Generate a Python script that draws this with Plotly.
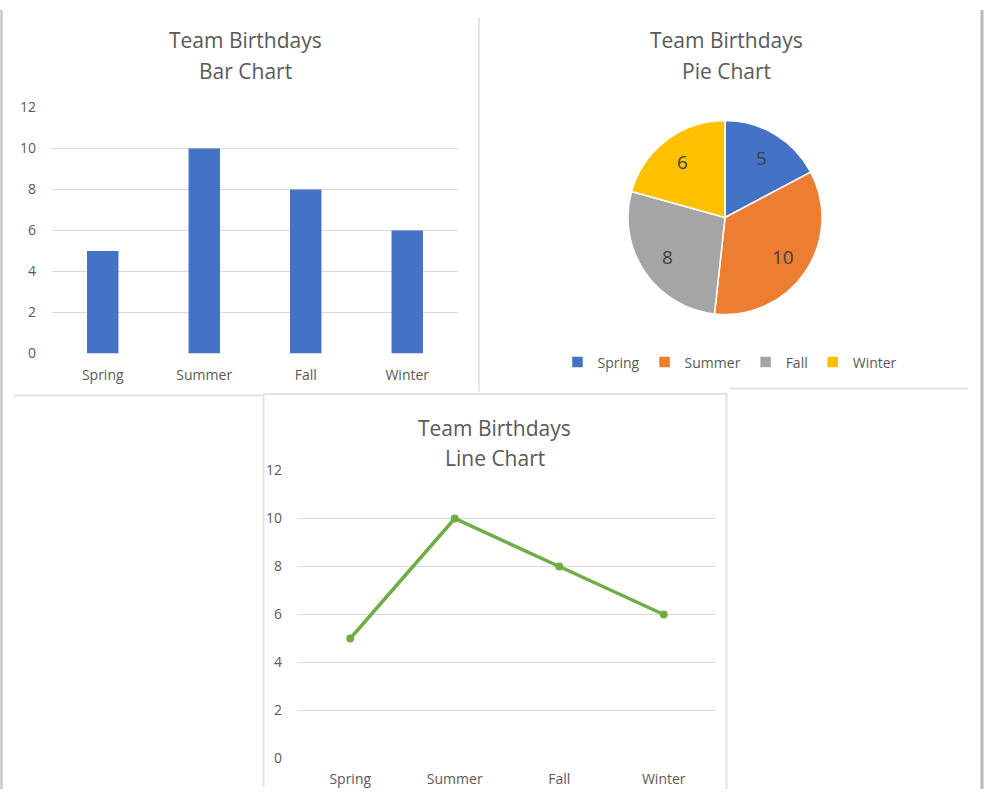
import math
import plotly.graph_objects as go

W, H = 985, 798

seasons = ["Spring", "Summer", "Fall", "Winter"]
birthdays = [5, 10, 8, 6]
y_ticks = [0, 2, 4, 6, 8, 10, 12]

season_colors = ["#4472C4", "#ED7D31", "#A5A5A5", "#FFC000"]
bar_color = "#4472C4"
line_color = "#70AD47"
grid_color = "#D9D9D9"
text_color = "#595959"
FONT = "Open Sans"

# observed vertical placement of the figure in the photographed page
TOP_OFF, EFF_H = 8.5, 779.0


def px_x(p):
    return p / W


def px_y(p):
    return 1 - (p - TOP_OFF) / EFF_H


def clamp(v):
    return max(0.0, min(1.0, v))


fig = go.Figure()

# Bar chart
fig.add_trace(go.Bar(
    x=seasons, y=birthdays, marker=dict(color=bar_color, line=dict(width=0)),
    width=0.31, xaxis="x", yaxis="y", showlegend=False, hoverinfo="x+y"))

# Pie chart
cx, cy, r = 725, 216, 97
pie_dom_y = [px_y(cy + r), px_y(cy - r)]
fig.add_trace(go.Pie(
    labels=seasons, values=birthdays, sort=False, direction="clockwise", rotation=0,
    marker=dict(colors=season_colors, line=dict(color="white", width=1.5)),
    textinfo="none",
    domain=dict(x=[px_x(cx - r), px_x(cx + r)], y=pie_dom_y),
    showlegend=True))

# Line chart
fig.add_trace(go.Scatter(
    x=seasons, y=birthdays, mode="lines+markers",
    line=dict(color=line_color, width=3.5), marker=dict(color=line_color, size=8),
    xaxis="x2", yaxis="y2", showlegend=False))

axis_common = dict(
    showline=False, zeroline=False, ticks="",
    tickfont=dict(family=FONT, size=14, color=text_color),
    fixedrange=True,
)

fig.update_layout(
    width=W, height=H, autosize=False,
    margin=dict(l=0, r=0, t=0, b=0),
    paper_bgcolor="white", plot_bgcolor="white",
    font=dict(family=FONT, color=text_color),
    xaxis=dict(domain=[px_x(52), px_x(458)], type="category", range=[-0.5, 3.5],
               showgrid=False, ticklabelstandoff=11, anchor="y", **axis_common),
    yaxis=dict(domain=[px_y(352), px_y(106)], range=[0, 12], tickvals=y_ticks,
               showgrid=True, gridcolor=grid_color, gridwidth=1, ticklabelstandoff=15,
               anchor="x", **axis_common),
    xaxis2=dict(domain=[px_x(298), px_x(716)], type="category", range=[-0.5, 3.5],
                showgrid=False, ticklabelstandoff=10, anchor="y2", **axis_common),
    yaxis2=dict(domain=[px_y(757), px_y(469)], range=[0, 12], tickvals=y_ticks,
                showgrid=True, gridcolor=grid_color, gridwidth=1, ticklabelstandoff=15,
                anchor="x2", **axis_common),
    legend=dict(orientation="h", x=px_x(730), xanchor="center", y=px_y(361), yanchor="middle",
                font=dict(family=FONT, size=14, color=text_color), itemwidth=30,
                bgcolor="rgba(0,0,0,0)", traceorder="normal"),
    showlegend=True,
)

# Pie value labels placed along each slice's mid-angle
total = sum(birthdays)
cum = 0
for v in birthdays:
    mid = (cum + v / 2) / total * 2 * math.pi
    cum += v
    rr = 0.72 * r
    fig.add_annotation(x=px_x(cx + rr * math.sin(mid)),
                       y=px_y(cy - rr * math.cos(mid)),
                       xref="paper", yref="paper", text=str(v), showarrow=False,
                       xanchor="center", yanchor="middle",
                       font=dict(family=FONT, size=19, color="#404040"))

# Titles
titles = [
    (245, 39, "Team Birthdays"), (245, 69, "Bar Chart"),
    (726, 39, "Team Birthdays"), (726, 69, "Pie Chart"),
    (495, 426, "Team Birthdays"), (495, 456, "Line Chart"),
]
for x, y, t in titles:
    fig.add_annotation(x=px_x(x), y=px_y(y), xref="paper", yref="paper", text=t,
                       showarrow=False, xanchor="center", yanchor="middle",
                       font=dict(family=FONT, size=21, color=text_color))


# Panel borders (screenshot frame)
def hline(x0, x1, y, color, width=1.5):
    fig.add_shape(type="line", xref="paper", yref="paper",
                  x0=px_x(x0), x1=px_x(x1), y0=clamp(px_y(y)), y1=clamp(px_y(y)),
                  line=dict(color=color, width=width))


def vline(x, y0, y1, color, width=1.5):
    fig.add_shape(type="line", xref="paper", yref="paper",
                  x0=px_x(x), x1=px_x(x), y0=clamp(px_y(y0)), y1=clamp(px_y(y1)),
                  line=dict(color=color, width=width))


vline(1.5, 0, 798, "#C8C8C8", 2.5)
vline(982, 0, 798, "#B8B8B8", 3)
vline(479, 16, 390, "#E6E6E6", 2)
hline(14, 262, 394, "#E3E3E3", 2)
hline(729, 968, 387, "#E3E3E3", 2)
vline(263.5, 392, 785, "#E3E3E3", 2)
hline(263, 727, 392.5, "#E3E3E3", 2)
vline(726.5, 392, 798, "#E3E3E3", 2)

fig.write_html("out.html")
